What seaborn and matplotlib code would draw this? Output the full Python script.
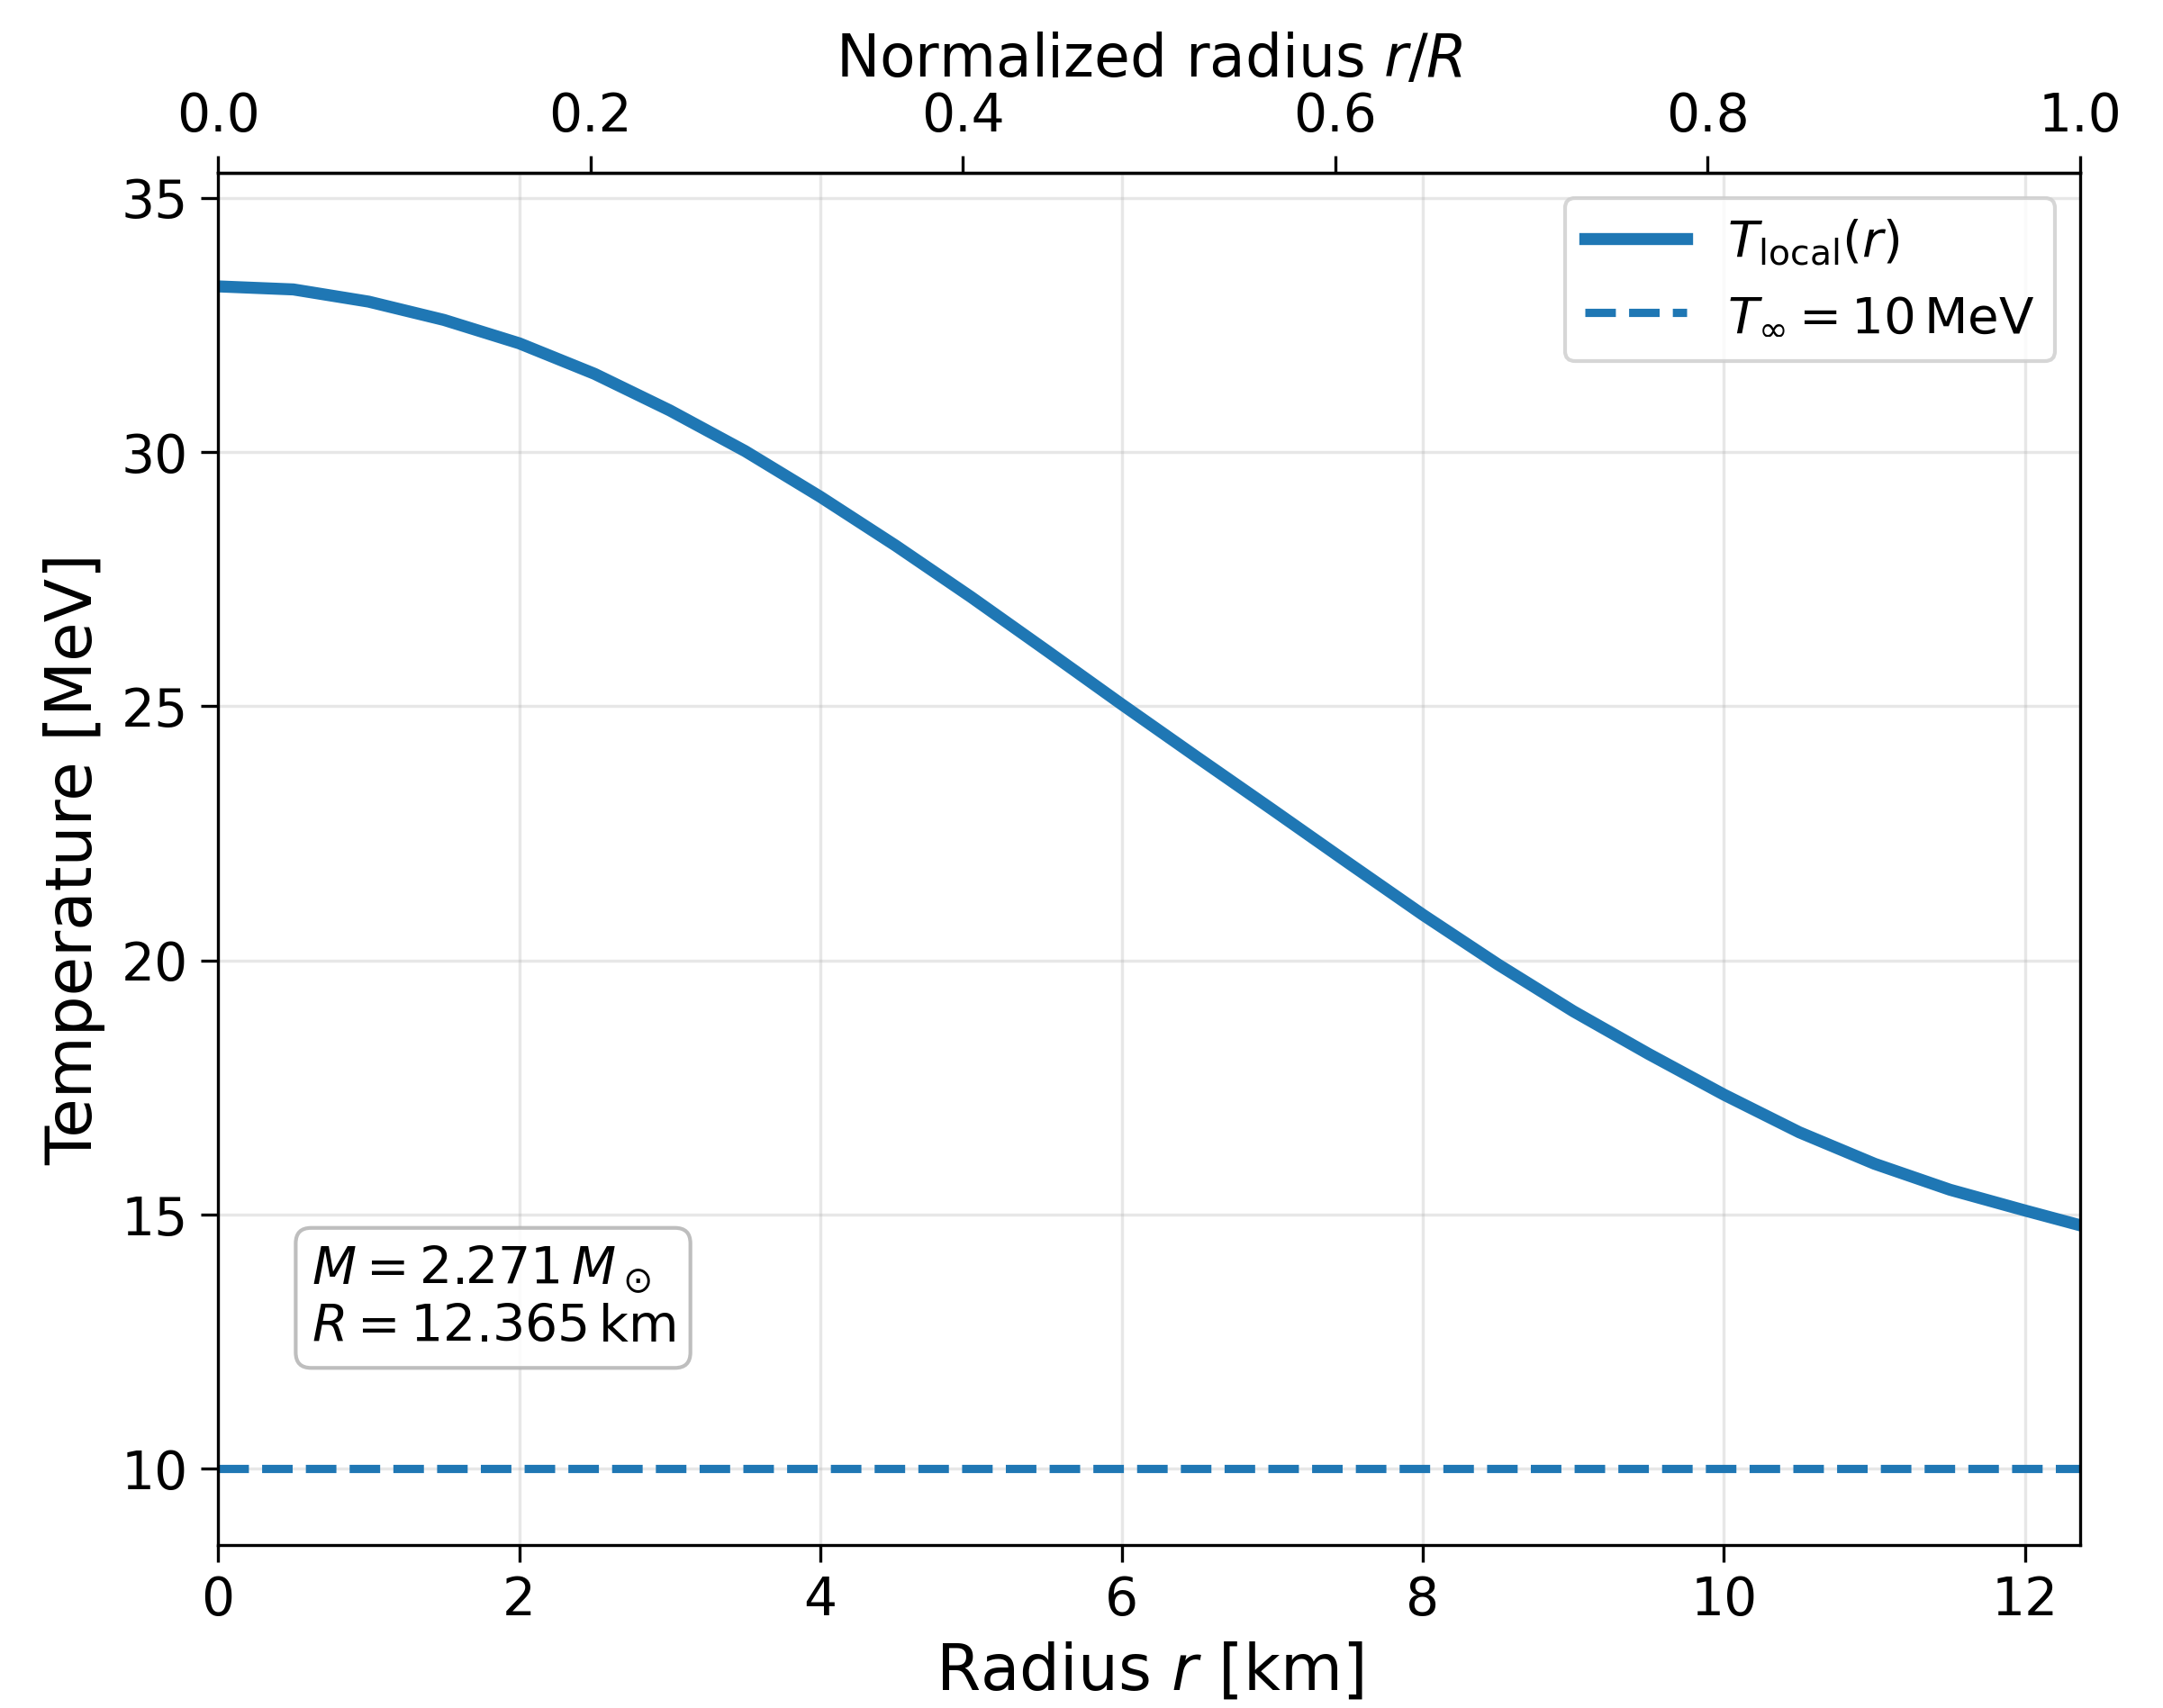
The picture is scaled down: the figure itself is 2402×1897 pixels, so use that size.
import numpy as np
import seaborn as sns
import matplotlib
matplotlib.use("Agg")
import matplotlib.pyplot as plt

# star parameters
M_star = 2.271      # solar masses
R_star = 12.365     # km
T_inf = 10.0        # MeV

# local temperature profile
r_km = [0.0, 0.5, 1.0, 1.5, 2.0, 2.5, 3.0, 3.5, 4.0, 4.5, 5.0, 5.5, 6.0,
        6.5, 7.0, 7.5, 8.0, 8.5, 9.0, 9.5, 10.0, 10.5, 11.0, 11.5, 12.0, 12.365]
T_local = [33.26, 33.20, 32.96, 32.60, 32.14, 31.54, 30.82, 30.02, 29.12,
           28.16, 27.15, 26.10, 25.04, 24.00, 22.97, 21.93, 20.90, 19.92,
           19.00, 18.16, 17.36, 16.62, 16.00, 15.49, 15.08, 14.79]

top_ticks = [0.0, 0.2, 0.4, 0.6, 0.8, 1.0]
line_color = "#1f77b4"

fig, ax = plt.subplots(figsize=(2402 / 300, 1897 / 300), dpi=300)
fig.subplots_adjust(left=0.1008, right=0.9617, bottom=0.0954, top=0.899)

sns.lineplot(x=r_km, y=T_local, ax=ax, color=line_color, lw=3.2,
             label=r"$T_{\mathrm{local}}(r)$")
ax.axhline(T_inf, color=line_color, ls="--", lw=2.2,
           label=r"$T_\infty = 10\,\mathrm{MeV}$")

ax.set_xlim(0, R_star)
ax.set_ylim(8.5, 35.5)
ax.set_xlabel(r"Radius $r$ [km]", fontsize=17)
ax.set_ylabel("Temperature [MeV]", fontsize=17)
ax.tick_params(labelsize=14, length=4.5)
ax.grid(True, alpha=0.3)

secax = ax.secondary_xaxis("top", functions=(lambda x: x / R_star, lambda x: x * R_star))
secax.set_xticks(top_ticks)
secax.set_xlabel(r"Normalized radius $r/R$", fontsize=15.5)
secax.tick_params(labelsize=14, length=4.5)

ax.legend(loc="upper right", fontsize=13.5)

ax.text(0.05, 0.18,
        r"$M = 2.271\,M_\odot$" + "\n" + r"$R = 12.365\,\mathrm{km}$",
        transform=ax.transAxes, fontsize=13.7, ha="left", va="center",
        bbox=dict(boxstyle="round", facecolor="white", edgecolor="0.7", alpha=0.85))

fig.savefig("out.png", dpi=300)
